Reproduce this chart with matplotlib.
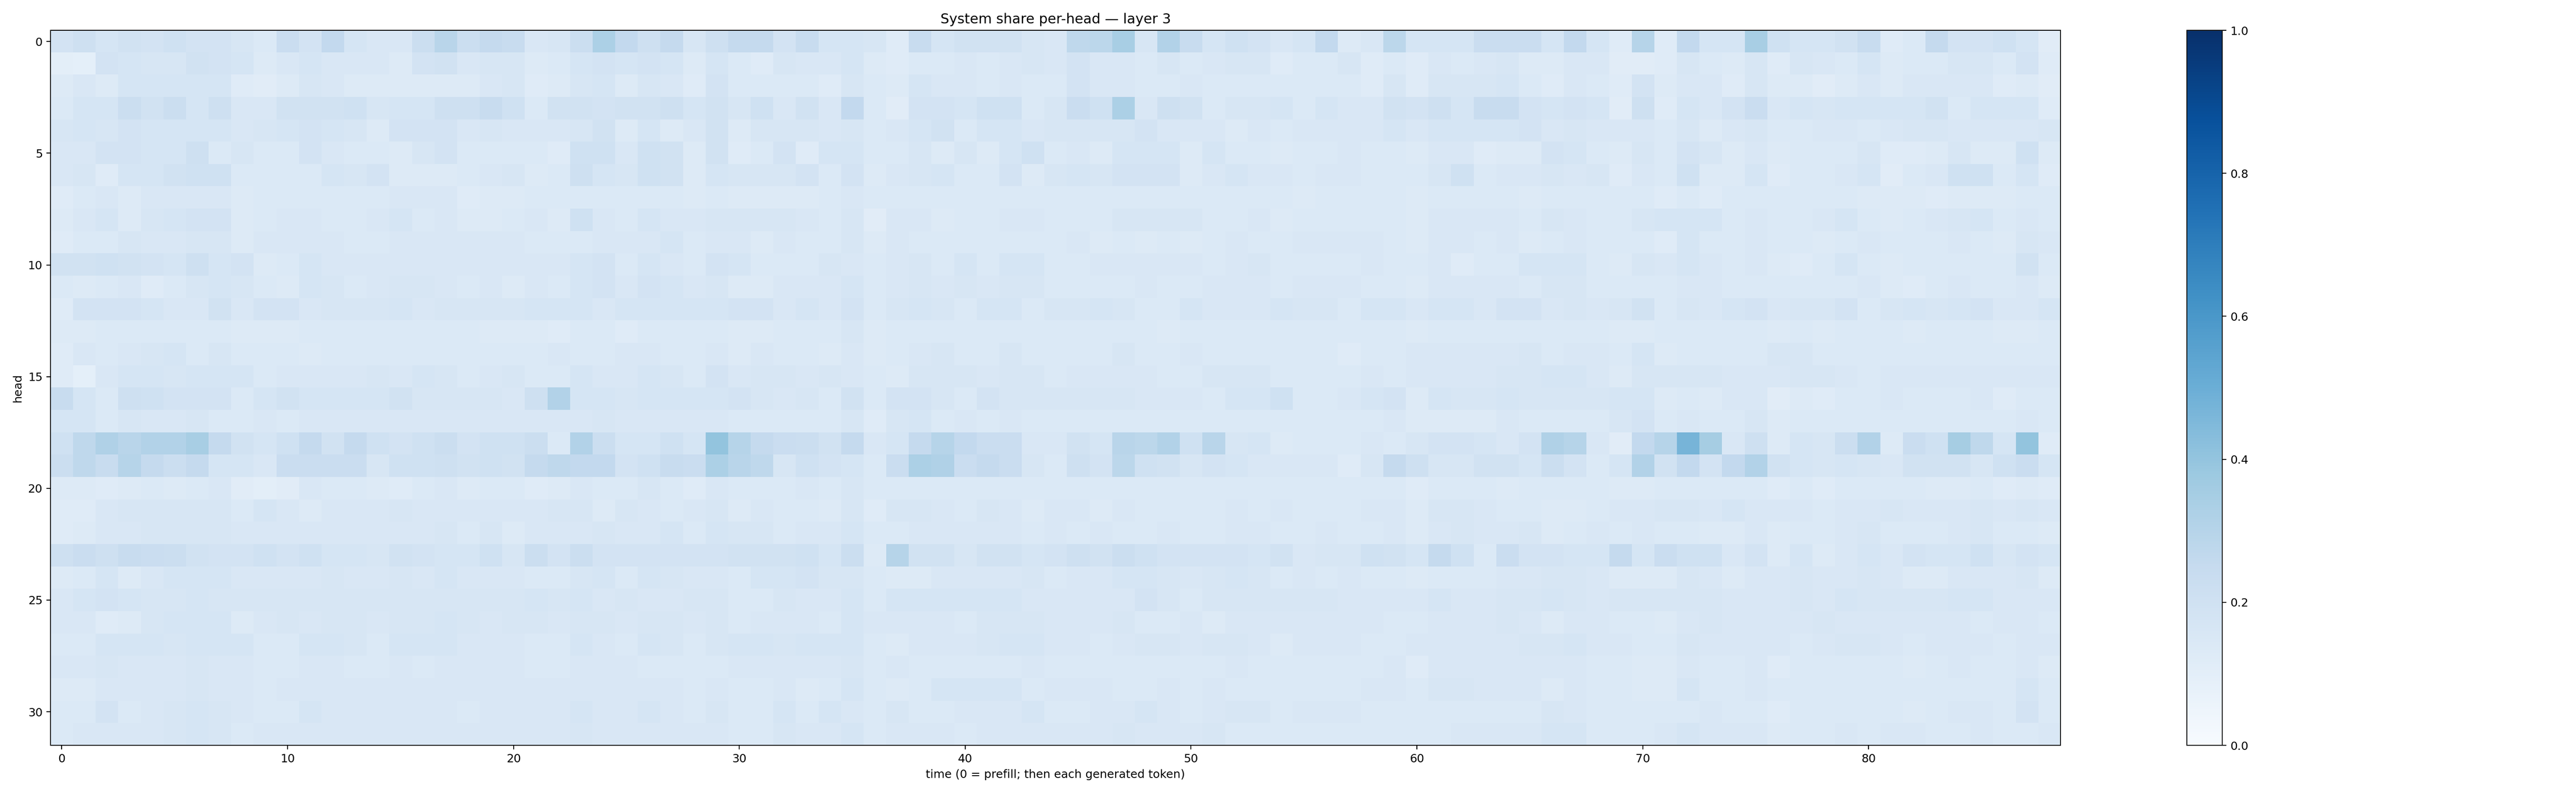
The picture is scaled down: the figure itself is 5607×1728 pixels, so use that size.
import numpy as np
import matplotlib
matplotlib.use("Agg")
import matplotlib.pyplot as plt

# system share per head (percent), rows = heads 0..31, cols = time 0..88
share_pct = [
    "18 21 17 19 18 20 18 18 16 14 23 18 26 17 15 15 22 29 22 25 24 15 16 22 33 26 21 25 16 21 "
    "25 25 18 24 17 17 16 12 24 17 19 19 19 16 15 27 28 34 16 31 24 17 20 18 15 17 26 13 15 28 "
    "17 17 17 23 23 23 17 26 17 12 30 12 26 17 17 34 20 17 17 19 24 12 14 25 18 18 20 17 11",
    "10 9 18 17 16 16 19 18 17 13 15 17 15 15 15 13 18 19 15 16 16 13 14 17 18 17 18 17 13 17 "
    "14 12 16 15 15 17 13 12 14 14 15 14 15 16 15 18 15 15 14 16 14 15 16 16 12 14 14 16 12 14 "
    "12 15 14 15 16 13 13 15 15 11 11 12 16 14 13 16 12 16 15 14 17 13 14 14 16 16 14 18 12",
    "13 15 13 17 17 17 17 17 12 11 13 16 15 13 13 13 13 13 13 15 16 12 13 16 17 13 16 15 12 18 "
    "14 14 14 14 12 16 14 13 17 15 15 14 15 14 14 18 15 15 14 14 15 14 14 14 14 14 14 14 12 16 "
    "12 16 16 16 17 14 12 15 14 12 18 13 15 15 12 16 13 13 11 13 15 13 15 15 15 15 12 13 11",
    "14 17 17 22 19 22 17 21 15 15 19 19 19 20 16 17 17 21 21 24 20 14 19 19 18 19 19 21 17 19 "
    "16 20 15 19 15 26 14 11 18 18 17 20 20 14 16 23 20 33 15 21 19 14 16 16 17 14 17 15 15 19 "
    "18 21 17 24 24 18 17 18 17 11 21 12 17 15 18 23 15 17 16 17 17 17 17 19 14 17 17 17 12",
    "16 17 16 18 17 17 17 17 15 16 17 18 17 16 13 18 18 18 15 16 15 15 15 16 19 13 17 13 15 19 "
    "13 16 16 16 15 16 14 15 17 19 14 17 17 15 16 16 16 16 18 15 15 15 13 15 14 15 15 15 15 17 "
    "15 17 17 17 17 18 15 16 15 15 15 14 16 13 15 16 14 14 15 15 14 15 16 16 15 15 15 15 16",
    "15 15 18 18 17 17 21 14 16 14 14 18 15 14 14 13 16 18 14 14 14 14 12 20 20 15 20 19 13 19 "
    "12 14 18 12 17 17 14 14 16 13 16 13 17 20 14 15 13 17 17 17 13 17 14 14 13 14 14 15 14 14 "
    "13 15 15 12 13 13 18 17 14 13 16 14 18 16 13 15 13 14 14 14 16 12 12 13 16 13 13 20 13",
    "15 16 12 17 17 19 20 20 14 14 14 14 17 16 18 13 13 13 14 15 16 13 14 21 17 16 20 19 13 17 "
    "16 16 16 18 14 18 13 15 16 17 14 14 18 13 16 17 16 18 18 18 13 15 17 15 15 14 15 15 14 14 "
    "14 16 20 14 15 15 16 15 16 12 15 14 20 13 13 17 12 14 14 15 17 11 14 15 20 20 14 17 12",
    "12 14 15 13 15 15 15 15 13 14 14 14 14 14 14 15 15 15 12 13 13 14 14 14 14 14 14 14 13 14 "
    "13 13 13 13 14 15 14 14 14 14 14 14 14 14 14 14 14 14 14 14 14 14 14 14 14 13 14 14 14 14 "
    "13 14 14 14 14 13 14 14 14 14 14 12 14 12 14 14 14 14 14 14 13 13 13 12 13 13 13 14 14",
    "13 15 17 13 16 17 18 18 13 14 15 15 14 14 15 17 14 15 13 13 14 15 13 20 15 14 17 15 15 16 "
    "16 16 16 15 14 16 11 15 15 13 14 14 15 15 14 14 14 16 16 16 16 14 14 15 13 14 14 14 14 14 "
    "13 15 15 15 15 14 16 15 14 14 16 17 17 17 14 15 14 14 15 17 14 13 14 15 16 17 14 15 14",
    "12 14 14 16 15 15 16 16 13 15 15 15 15 14 14 15 15 15 15 15 15 14 14 14 15 15 15 17 14 15 "
    "15 13 15 14 14 16 13 15 14 14 14 14 14 14 14 15 13 14 13 14 13 14 15 14 14 15 15 15 15 14 "
    "13 15 15 14 15 13 14 15 14 14 14 12 17 14 14 15 14 14 13 14 15 14 14 14 15 14 13 16 15",
    "19 19 20 19 18 17 21 17 18 13 14 17 15 15 15 15 15 15 15 15 15 15 15 17 18 14 17 15 14 18 "
    "17 14 14 14 16 15 14 15 16 14 17 14 17 17 14 14 15 15 15 15 15 14 15 16 14 14 14 14 15 14 "
    "14 15 12 14 14 17 17 17 14 13 16 15 17 15 14 15 13 12 14 17 14 13 14 14 14 14 14 19 14",
    "14 13 14 15 12 14 16 17 16 14 13 17 16 14 15 16 16 15 14 15 13 15 14 17 18 15 18 17 15 16 "
    "13 13 15 15 15 17 14 15 16 15 16 15 16 16 14 14 14 14 15 14 14 15 15 15 14 15 15 15 14 14 "
    "13 15 15 15 15 14 16 16 14 14 14 14 15 15 14 14 14 14 14 14 15 13 12 14 15 14 14 15 13",
    "12 18 18 18 17 15 15 19 15 18 18 15 16 16 16 17 15 16 16 16 16 17 17 17 15 17 17 17 17 17 "
    "18 18 15 17 15 18 14 16 17 16 14 17 17 14 16 16 17 16 14 14 17 15 15 15 17 16 16 14 17 17 "
    "15 17 17 15 18 18 15 16 15 16 19 14 16 15 17 18 15 16 16 18 14 16 17 16 17 18 15 15 17",
    "13 13 14 14 14 14 14 14 13 13 13 14 14 14 14 14 14 14 14 13 13 13 12 14 14 12 14 14 14 14 "
    "13 13 14 14 14 16 13 14 14 14 14 14 14 14 14 14 14 14 14 13 14 14 14 14 14 14 14 14 14 14 "
    "13 14 14 14 14 14 14 14 14 13 13 14 14 14 14 14 13 14 13 14 14 14 13 14 14 14 13 13 14",
    "12 15 14 15 16 17 14 16 14 14 14 13 14 14 14 14 14 14 14 14 14 14 15 14 14 15 15 14 14 15 "
    "13 15 14 14 13 15 13 14 15 16 14 14 16 14 14 14 14 16 14 14 15 14 14 14 14 14 14 12 14 14 "
    "15 15 15 15 15 16 14 15 15 14 17 13 14 14 14 14 16 16 14 14 14 14 14 14 14 14 14 14 14",
    "12 9 15 17 17 16 17 17 17 14 15 15 15 15 16 15 17 16 14 15 16 14 14 17 15 15 17 16 14 18 "
    "15 16 16 15 16 15 14 13 16 16 16 15 16 16 14 15 15 15 15 14 14 16 16 16 14 14 14 14 15 14 "
    "15 15 15 15 16 16 17 17 15 13 16 16 16 16 15 15 15 16 16 15 14 15 15 15 15 15 15 15 15",
    "24 17 14 21 20 18 18 18 14 17 19 17 17 17 17 19 16 16 16 16 15 21 31 17 17 16 17 17 17 17 "
    "18 16 15 16 14 19 14 18 18 16 14 18 16 16 16 16 16 16 15 15 15 14 17 17 20 14 14 15 17 18 "
    "13 17 16 16 17 16 16 16 16 17 17 13 14 13 15 15 11 13 12 14 14 15 14 14 14 15 12 14 14",
    "17 17 14 16 15 15 16 14 14 15 14 15 15 15 15 15 15 15 15 15 15 15 15 15 16 15 15 15 15 15 "
    "14 14 14 14 14 16 12 16 17 14 15 14 15 14 14 14 14 14 14 14 14 14 14 14 14 14 14 14 14 15 "
    "13 13 13 13 15 14 14 14 14 16 18 14 15 14 14 16 13 14 14 14 14 14 14 14 14 14 14 15 14",
    "20 27 32 29 31 31 34 25 19 17 20 25 19 25 20 18 20 22 18 20 20 22 14 31 22 17 17 20 17 40 "
    "30 25 23 22 19 25 15 17 25 30 26 23 23 15 15 19 17 29 28 31 20 29 16 17 13 14 14 14 15 14 "
    "16 18 18 17 15 18 32 30 15 11 26 30 47 35 15 21 13 17 16 22 31 13 23 20 35 27 17 40 12",
    "22 27 24 30 25 22 25 17 17 15 23 23 23 23 16 20 20 21 19 20 19 25 27 26 26 18 20 24 23 33 "
    "29 27 16 20 18 17 14 23 33 32 23 25 23 16 14 21 18 28 20 19 16 18 17 15 15 15 15 12 16 25 "
    "21 16 16 19 19 17 22 18 14 17 31 19 26 18 26 31 19 17 16 17 16 15 19 19 19 16 20 23 17",
    "13 13 12 13 14 13 14 15 11 10 11 15 14 14 13 12 14 15 13 14 14 12 13 15 14 14 16 14 12 15 "
    "14 14 14 15 14 16 14 14 14 14 14 14 14 14 14 14 14 14 14 14 14 14 14 14 14 14 14 14 14 14 "
    "12 14 14 14 13 14 14 14 14 13 13 14 14 14 14 14 12 14 12 14 14 14 14 13 13 14 12 13 12",
    "12 12 15 16 16 16 16 16 14 17 15 13 15 15 15 16 15 15 15 15 15 15 16 16 13 16 15 14 15 16 "
    "13 15 14 14 13 16 12 16 16 15 14 16 15 13 15 15 13 15 14 14 14 14 15 14 15 14 14 14 15 15 "
    "13 16 16 15 14 14 13 13 14 15 15 16 16 15 17 15 15 15 14 15 15 16 15 15 15 16 15 16 15",
    "12 13 15 15 16 16 16 16 15 15 15 15 15 15 15 15 15 16 14 16 13 15 15 15 16 15 15 17 14 17 "
    "16 16 14 15 15 17 14 14 15 15 15 15 15 14 15 14 15 14 14 15 14 14 15 15 14 14 15 14 14 15 "
    "13 15 16 15 15 16 13 14 15 14 15 14 14 13 13 15 13 14 14 15 16 14 14 14 15 16 14 14 13",
    "21 23 21 24 23 22 19 18 18 20 18 20 17 17 16 19 18 17 17 20 16 22 18 22 18 18 18 18 18 18 "
    "19 19 19 20 17 22 13 30 19 19 16 19 19 17 18 21 19 22 20 18 18 18 18 17 19 15 16 16 20 19 "
    "17 25 20 14 23 18 18 17 17 25 17 23 20 20 15 18 13 17 13 15 17 15 18 17 17 20 16 18 17",
    "13 14 17 13 15 17 17 17 15 15 15 15 16 15 15 16 15 17 15 15 15 14 14 16 17 14 17 16 15 15 "
    "14 17 17 18 16 16 14 13 13 15 15 15 15 16 14 15 15 17 17 16 15 16 17 16 14 15 14 15 14 14 "
    "13 14 14 14 15 15 16 16 15 13 13 13 16 15 13 15 15 16 15 15 16 15 13 13 15 15 15 16 13",
    "15 17 18 17 16 16 17 16 16 16 16 16 16 16 16 16 16 16 16 16 16 17 16 17 15 16 15 15 16 16 "
    "14 14 16 15 15 17 14 17 17 17 17 17 17 15 15 15 15 15 18 16 14 16 16 16 16 16 16 15 15 15 "
    "15 17 15 15 16 16 17 16 15 16 16 16 16 16 15 15 15 16 15 17 16 16 16 16 17 17 15 15 15",
    "15 15 12 13 16 17 17 17 13 15 16 15 16 16 15 16 16 17 16 15 16 16 15 16 16 15 16 16 15 16 "
    "14 15 15 15 14 17 15 15 15 15 14 16 16 16 15 15 15 16 14 14 15 13 15 15 15 15 15 15 15 14 "
    "14 15 15 15 16 15 13 15 15 14 14 13 15 16 15 15 15 15 16 15 15 15 15 15 15 14 15 15 14",
    "14 14 17 17 17 16 17 17 17 14 14 17 17 16 14 17 17 17 15 15 15 14 14 17 15 14 17 16 14 16 "
    "17 17 16 17 17 17 14 13 15 15 15 16 17 17 15 15 14 15 16 16 15 16 16 15 13 15 15 15 14 14 "
    "15 15 15 15 15 16 16 17 15 15 14 14 16 15 15 15 15 14 15 16 16 15 14 15 15 15 14 15 15",
    "15 15 16 15 15 15 16 15 15 14 14 15 15 14 14 15 14 15 15 15 15 14 14 15 15 15 14 14 14 14 "
    "15 15 15 15 15 16 14 15 14 14 14 14 14 15 14 14 14 14 14 14 14 14 15 14 14 14 14 14 14 15 "
    "12 15 15 15 15 15 15 15 14 14 13 13 15 14 14 15 12 14 14 14 14 14 13 14 15 14 14 15 13",
    "13 13 15 15 15 15 16 15 15 14 15 15 15 15 15 15 15 15 15 15 15 15 15 15 15 15 15 15 14 15 "
    "14 14 15 13 14 17 14 13 14 17 17 17 17 14 15 15 15 14 14 15 14 15 14 14 14 14 14 14 15 15 "
    "14 16 16 15 15 15 13 15 14 14 13 13 17 14 14 15 14 14 14 14 14 14 14 14 14 14 14 17 14",
    "14 14 18 14 15 16 17 16 15 14 14 17 15 15 15 15 15 15 14 15 15 15 15 17 15 15 17 15 14 16 "
    "14 14 17 14 17 15 14 16 14 14 15 15 15 17 14 14 15 15 17 15 14 15 16 16 14 15 15 15 14 14 "
    "14 14 14 14 14 14 16 15 14 14 14 14 14 15 14 14 12 14 14 14 14 14 13 14 15 15 14 18 14",
    "14 15 15 15 15 16 17 16 14 15 15 15 15 15 15 15 15 15 15 15 15 15 15 16 15 15 15 15 15 15 "
    "14 14 16 15 15 17 14 15 15 15 14 15 15 15 15 15 15 16 15 15 15 16 14 14 14 14 14 14 14 14 "
    "14 14 15 15 15 15 17 17 14 14 14 15 17 15 15 15 13 14 14 15 14 15 15 14 14 15 14 14 15",
]

title = "System share per-head \u2014 layer 3"
xlabel = "time (0 = prefill; then each generated token)"
ylabel = "head"

share = np.array([[int(v) for v in row.split()] for row in share_pct], dtype=float) / 100.0
assert share.shape == (32, 89), share.shape

fig = plt.figure(figsize=(5607 / 180, 1728 / 180), dpi=180)
ax = fig.add_axes([0.0196, 0.0613, 0.7803, 0.9005])
im = ax.imshow(share, aspect="auto", cmap="Blues", vmin=0, vmax=1, interpolation="nearest")
ax.set_title(title)
ax.set_xlabel(xlabel)
ax.set_ylabel(ylabel)

cax = fig.add_axes([0.8489, 0.0613, 0.0138, 0.9005])
fig.colorbar(im, cax=cax)

fig.savefig("out.png", dpi=180)
